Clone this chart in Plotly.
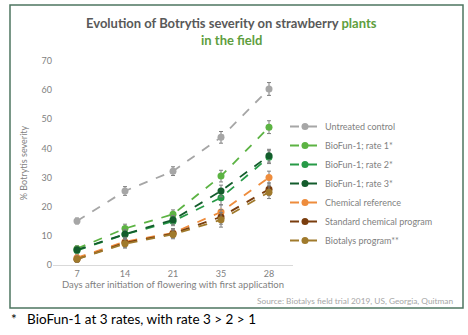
import plotly.graph_objects as go

days = ["7", "14", "21", "35", "28"]
series_names = ["Untreated control", "BioFun-1; rate 1*", "BioFun-1; rate 2*",
                "BioFun-1; rate 3*", "Chemical reference", "Standard chemical program",
                "Biotalys program**"]
untreated = [15.1, 25.4, 32.2, 43.8, 60.4]
rate1 = [5.6, 12.5, 17.4, 30.5, 47.3]
rate2 = [5.0, 10.5, 15.0, 23.1, 37.0]
rate3 = [5.2, 10.6, 15.5, 25.4, 37.5]
chem_ref = [2.5, 8.0, 11.0, 18.2, 30.0]
std_chem = [2.0, 7.6, 10.8, 16.5, 26.0]
biotalys = [2.0, 7.3, 10.5, 15.5, 25.0]
values = [untreated, rate1, rate2, rate3, chem_ref, std_chem, biotalys]
errors = [
    [1.0, 1.5, 1.5, 2.0, 2.2],
    [1.0, 1.5, 1.5, 2.0, 2.2],
    [1.0, 1.5, 1.5, 2.5, 2.2],
    [1.0, 1.5, 1.5, 2.0, 2.2],
    [1.0, 1.5, 1.5, 2.5, 2.2],
    [1.0, 1.5, 1.5, 2.5, 2.2],
    [1.0, 1.5, 1.5, 2.5, 2.2],
]
colors = ["#a6a6a6", "#5cb343", "#279a47", "#135c2c", "#ee8c3c", "#7a3d0e", "#a07a2c"]

FONT = "Lato"
fig = go.Figure()
for name, vals, err, col in zip(series_names, values, errors, colors):
    fig.add_trace(go.Scatter(
        x=days, y=vals, name=name, mode="lines+markers",
        line=dict(color=col, width=1.8, dash="dash"),
        marker=dict(color=col, size=7, symbol="circle"),
        error_y=dict(type="data", array=err, visible=True, color="#7f7f7f", thickness=1, width=2),
    ))

fig.update_layout(
    width=468, height=335,
    margin=dict(l=53, r=175, t=61, b=70),
    paper_bgcolor="white", plot_bgcolor="white",
    font=dict(family=FONT, color="#7f7f7f", size=9),
    showlegend=True,
    legend=dict(x=(285 - 53) / 240, y=(265 - 112) / 204, xanchor="left", yanchor="top",
                font=dict(family=FONT, size=9, color="#7f7f7f"),
                itemwidth=30, bgcolor="rgba(0,0,0,0)"),
    xaxis=dict(type="category", categoryorder="array", categoryarray=days,
               range=[-0.5, 4.5], showgrid=False, showline=True, linecolor="#d9d9d9",
               linewidth=1, ticks="", tickfont=dict(size=9, color="#7f7f7f"),
               title=dict(text="Days after initiation of flowering with first application",
                          font=dict(size=9.5, color="#7f7f7f"), standoff=2),
               zeroline=False),
    yaxis=dict(range=[0, 70], dtick=10, showgrid=False, showline=False, zeroline=False,
               ticks="", tickfont=dict(size=9, color="#7f7f7f"),
               title=dict(text="% Botrytis severity", font=dict(size=9, color="#7f7f7f"), standoff=12)),
    shapes=[dict(type="rect", xref="paper", yref="paper",
                 x0=-43 / 240, x1=(463 - 53) / 240,
                 y0=(265 - 308) / 204, y1=(265 - 5) / 204,
                 line=dict(color="#4d7560", width=1.5))],
    annotations=[
        dict(text="<b>Evolution of Botrytis severity on strawberry <span style='color:#5e9e3e'>plants</span></b>",
             xref="paper", yref="paper", x=(231 - 53) / 240, y=(265 - 23) / 204,
             showarrow=False, font=dict(family=FONT, size=13, color="#595959"),
             xanchor="center", yanchor="middle"),
        dict(text="<b>in the field</b>",
             xref="paper", yref="paper", x=(231 - 53) / 240, y=(265 - 40) / 204,
             showarrow=False, font=dict(family=FONT, size=13, color="#5e9e3e"),
             xanchor="center", yanchor="middle"),
        dict(text="Source: Biotalys field trial 2019, US, Georgia, Quitman",
             xref="paper", yref="paper", x=(455 - 53) / 240, y=(265 - 301) / 204,
             showarrow=False, font=dict(family=FONT, size=8.3, color="#a6a6a6"),
             xanchor="right", yanchor="middle"),
        dict(text="*   BioFun-1 at 3 rates, with rate 3 > 2 > 1",
             xref="paper", yref="paper", x=(9 - 53) / 240, y=(265 - 319) / 204,
             showarrow=False, font=dict(family=FONT, size=13.5, color="#000000"),
             xanchor="left", yanchor="middle"),
    ],
)

fig.write_html("out.html")
